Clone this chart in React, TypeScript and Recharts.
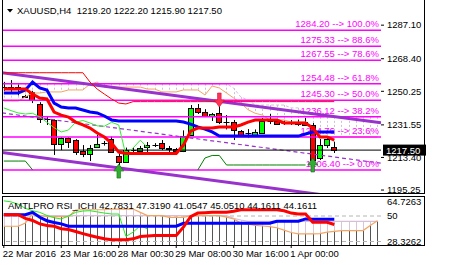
import React from "react";
import { ComposedChart, Bar, Line, XAxis, YAxis, ReferenceLine } from "recharts";

const FONT = '"Liberation Sans", Arial, sans-serif';
const FS = 9.5;

// XAUUSD H4 candles, bar 0 .. 46
const opens = [1252.8, 1252.5, 1252.2, 1247.5, 1249.7, 1243.2, 1234.6, 1234.3, 1220.9, 1224.2, 1223.1, 1217.0, 1215.3, 1219.2, 1221.4, 1223.7, 1214.2, 1210.9, 1217.6, 1217.0, 1219.2, 1220.6, 1221.4, 1218.4, 1218.1, 1217.0, 1225.9, 1240.9, 1238.7, 1236.5, 1238.2, 1233.2, 1233.1, 1228.1, 1227.0, 1226.0, 1227.0, 1233.7, 1233.7, 1232.6, 1232.6, 1232.0, 1233.4, 1231.5, 1213.1, 1220.3, 1219.2];
const highs = [1255.5, 1256.5, 1254.0, 1248.3, 1250.5, 1244.2, 1236.0, 1234.6, 1224.6, 1224.6, 1223.6, 1220.3, 1220.3, 1225.9, 1222.6, 1225.0, 1215.6, 1218.9, 1219.2, 1219.8, 1222.0, 1221.4, 1223.1, 1219.8, 1218.7, 1228.5, 1242.6, 1243.2, 1240.3, 1238.2, 1242.1, 1237.0, 1234.3, 1228.7, 1229.2, 1229.0, 1235.4, 1237.6, 1234.3, 1234.0, 1234.2, 1234.5, 1235.4, 1232.6, 1223.7, 1224.2, 1222.2];
const lows = [1250.5, 1250.0, 1248.0, 1246.5, 1243.7, 1232.6, 1231.5, 1214.8, 1217.5, 1218.7, 1214.8, 1213.6, 1211.4, 1219.0, 1220.0, 1216.0, 1209.2, 1210.5, 1214.8, 1214.8, 1216.4, 1219.2, 1217.5, 1216.4, 1216.4, 1216.4, 1225.6, 1237.6, 1235.9, 1233.7, 1232.0, 1229.0, 1223.1, 1224.8, 1224.2, 1225.3, 1226.8, 1232.0, 1231.5, 1231.5, 1231.5, 1231.0, 1231.0, 1206.4, 1212.0, 1218.7, 1215.9];
const closes = [1252.5, 1252.2, 1252.5, 1247.2, 1245.4, 1234.8, 1234.8, 1220.9, 1224.2, 1222.0, 1216.4, 1215.3, 1218.7, 1220.9, 1221.6, 1216.4, 1210.9, 1217.5, 1217.4, 1218.7, 1220.3, 1220.4, 1218.7, 1218.2, 1217.0, 1225.3, 1240.9, 1238.7, 1236.5, 1237.6, 1233.4, 1233.1, 1228.7, 1225.9, 1226.8, 1227.6, 1233.7, 1233.5, 1232.3, 1232.7, 1233.1, 1233.4, 1231.5, 1212.0, 1220.3, 1223.7, 1217.5];

// indicator lines on the price panel
const tenkan = [1251.5, 1251.5, 1251.5, 1251.5, 1248.7, 1246.5, 1246.0, 1238.7, 1237.0, 1235.9, 1233.1, 1231.5, 1229.8, 1227.0, 1224.8, 1221.4, 1216.4, 1215.6, 1215.6, 1215.6, 1215.6, 1215.6, 1215.6, 1215.6, 1215.6, 1220.3, 1228.1, 1229.8, 1229.8, 1229.8, 1230.4, 1230.4, 1230.4, 1231.5, 1233.1, 1234.3, 1234.3, 1234.3, 1234.3, 1232.6, 1232.6, 1232.6, 1232.6, 1229.8, 1224.8, 1224.8, 1223.0];
const kijun = [1249.3, 1249.3, 1249.3, 1251.0, 1255.4, 1252.1, 1251.0, 1243.7, 1241.5, 1240.9, 1240.9, 1239.8, 1238.7, 1238.2, 1236.5, 1234.3, 1233.7, 1233.7, 1233.7, 1233.7, 1233.7, 1233.7, 1233.7, 1233.7, 1233.7, 1233.1, 1232.0, 1230.4, 1229.2, 1227.6, 1225.3, 1225.3, 1225.3, 1225.3, 1225.3, 1225.3, 1225.3, 1225.3, 1225.3, 1225.3, 1225.3, 1225.3, 1226.5, 1227.6, 1227.6, 1227.6, 1227.6];
const chikou = [1241.0, 1239.5, 1238.2, 1237.6, 1238.0, 1236.0, 1233.0, 1230.0, 1227.6, 1228.7, 1233.0, 1234.0, 1232.6, 1231.0, 1230.8, 1233.0, 1231.5, 1214.5, 1218.7, 1223.0, 1219.0];
const highLine = [1260.6, 1260.6, 1260.6, 1260.6, 1260.6, 1260.6, 1260.6, 1260.6, 1260.6, 1260.6, 1260.6, 1260.6, 1255.4, 1251.5, 1248.7, 1246.0, 1243.7, 1243.2, 1244.5, 1244.5, 1244.5, 1244.5, 1244.5, 1244.5, 1244.5, 1244.5, 1244.5, 1244.5, 1244.5, 1244.5, 1244.5, 1244.5, 1244.5, 1244.5, 1244.5, 1244.5, 1244.5, 1244.5, 1244.5, 1244.5, 1244.5, 1244.5, 1244.5, 1244.5, 1244.5, 1244.5, 1244.5];
const lowLine = [1211.4, 1211.4, 1211.4, 1211.4, 1206.5, null, null, null, null, null, null, null, null, null, null, null, null, null, null, null, null, null, null, null, null, null, null, 1206.4, 1213.1, 1214.5, 1214.5, 1209.2, 1209.2, 1209.2, 1209.2, 1209.2, 1209.2, 1209.2, 1209.2, 1209.2, 1209.2, 1209.2, 1209.2];
const spanA = [1244.8, 1244.8, 1244.8, 1247.1, 1249.3, 1249.3, 1249.9, 1249.9, 1249.9, 1251.0, 1251.0, 1251.0, 1254.3, 1255.4, 1252.6, 1252.6, 1252.6, 1252.6, 1252.6, 1252.6, 1251.5, 1251.5, 1249.9, 1249.9, 1249.9, 1251.0, 1251.0, 1251.0, 1248.2, 1253.2, 1252.1, 1249.3, 1246.5, 1243.7, 1240.0, 1238.0, 1237.0, 1234.3, 1234.3, 1234.3, 1233.1, 1233.1, 1233.1, 1229.8, 1224.8, 1224.8, 1224.8, 1224.8, 1224.8, 1224.8, 1224.8, 1224.8, 1224.8];
const spanB = [1254.5, 1254.5, 1254.5, 1254.5, 1254.5, 1254.5, 1254.5, 1254.5, 1254.5, 1254.5, 1254.5, 1254.5, 1254.5, 1254.5, 1254.5, 1254.5, 1254.5, 1254.5, 1254.5, 1254.5, 1254.5, 1254.5, 1254.5, 1254.5, 1254.5, 1254.5, 1254.5, 1254.5, 1254.5, 1254.5, 1254.5, 1254.5, 1252.0, 1247.0, 1245.4, 1242.6, 1242.6, 1242.6, 1242.6, 1242.6, 1241.0, 1241.0, 1236.0, 1236.0, 1236.0, 1236.0, 1236.0, 1236.0, 1236.0, 1236.0, 1236.0, 1236.0, 1236.0];

// signal arrows: bar index and price
const sellBars = [30];
const sellPrices = [1245.4];
const buyBars = [16, 43];
const buyPrices = [1205.8, 1209.2];

// fibonacci retracement
const fibPrices = [1284.2, 1275.33, 1267.55, 1254.48, 1245.3, 1236.12, 1224.76, 1206.4];
const fibRatios = ["100.0%", "88.6%", "78.6%", "61.8%", "50.0%", "38.2%", "23.6%", "0.0%"];

// channel lines: [bar, price] at both ends
const channelUpper = [[-0.25, 1260.6], [52.5, 1232.7]];
const channelMid = [[-0.25, 1238.2], [52.5, 1210.2]];
const channelLower = [[-0.25, 1216.1], [52.5, 1188.3]];

const lastPrice = 1217.5;
const priceTicks = [1287.1, 1268.4, 1250.25, 1231.55, 1213.4, 1195.25];

// RSI ichimoku sub window
const rsiTenkan = [51.1, 51.1, 51.1, 48.0, 46.2, 43.3, 42.0, 41.3, 39.2, 38.5, 36.8, 35.0, 33.4, 32.0, 30.6, 29.8, 29.8, 29.8, 30.6, 32.6, 33.0, 33.4, 33.4, 33.4, 33.4, 40.5, 49.5, 52.5, 52.8, 53.1, 53.1, 53.1, 54.0, 55.3, 55.3, 55.3, 55.3, 55.3, 55.3, 54.5, 52.5, 51.7, 51.7, 44.7, 44.7, 44.7, 42.8];
const rsiKijun = [51.1, 51.1, 51.1, 51.1, 53.1, 48.9, 46.0, 44.5, 43.3, 41.3, 41.3, 41.3, 41.3, 41.3, 41.3, 41.3, 41.3, 41.3, 41.3, 41.3, 41.3, 41.3, 41.3, 41.3, 41.3, 43.8, 43.8, 43.8, 43.8, 43.8, 43.8, 43.8, 43.8, 43.8, 43.8, 43.8, 43.8, 43.8, 45.5, 45.5, 45.5, 45.5, 47.5, 47.3, 47.3, 47.3, 47.3];
const rsiChikou = [62.9, 62.0, 60.1, 56.5, 54.5, 53.1, 50.5, 48.5, 47.5, 50.0, 53.1, 54.2, 54.5, 53.5, 52.5, 51.7, 51.7, 32.6, 36.3, 41.8, 39.0];
const rsiSpanA = [41.3, 41.3, 41.3, 44.0, 51.7, 50.5, 49.4, 49.4, 49.4, 49.4, 55.0, 55.3, 55.3, 55.3, 55.3, 55.9, 55.9, 55.9, 55.9, 53.1, 50.3, 50.3, 50.3, 48.9, 48.9, 48.9, 50.3, 50.3, 50.3, 50.3, 50.3, 49.0, 47.5, 44.0, 43.0, 42.0, 41.5, 41.0, 40.0, 38.0, 36.0, 34.8, 34.8, 34.8, 35.0, 36.3, 37.0, 37.6, 37.6, 37.6, 37.6, 42.0, 46.0];
const rsiSpanB = [50.3, 50.3, 50.3, 50.3, 50.3, 50.3, 50.3, 50.3, 50.3, 50.3, 50.3, 50.3, 50.3, 50.3, 50.3, 50.3, 50.3, 50.3, 50.3, 50.3, 50.3, 50.3, 50.3, 50.3, 50.3, 50.3, 50.3, 50.3, 50.3, 50.3, 50.3, 50.3, 48.0, 46.6, 45.5, 45.5, 45.5, 45.5, 45.5, 45.5, 45.5, 45.5, 45.5, 45.5, 45.5, 45.5, 45.5, 45.5, 45.5, 45.5, 45.5, 45.5, 45.5];
const rsiTicks = [28.3262, 50, 64.7263];

const dateTicks = [0, 8, 16, 24, 32, 40];
const dateLabels = ["22 Mar 2016", "23 Mar 16:00", "28 Mar 00:30", "29 Mar 08:00", "30 Mar 16:00", "1 Apr 00:00"];

const X_DOMAIN = [-0.25, 52.5];

const rows = spanA.map((a, i) => ({
  i,
  candle: i < opens.length ? [lows[i], highs[i]] : null,
  o: opens[i],
  h: highs[i],
  l: lows[i],
  c: closes[i],
  cloud: [Math.min(a, spanB[i]), Math.max(a, spanB[i])],
  spanA: a,
  spanB: spanB[i],
  tenkan: tenkan[i] ?? null,
  kijun: kijun[i] ?? null,
  chikou: chikou[i] ?? null,
  hi: highLine[i] ?? null,
  lo: lowLine[i] ?? null,
  sell: sellBars.includes(i) ? sellPrices[sellBars.indexOf(i)] : null,
  buy: buyBars.includes(i) ? buyPrices[buyBars.indexOf(i)] : null,
}));

const rsiRows = rsiSpanA.map((a, i) => ({
  i,
  floor: Math.min(a, rsiSpanB[i]),
  cloud: [Math.min(a, rsiSpanB[i]), Math.max(a, rsiSpanB[i])],
  spanA: a,
  spanB: rsiSpanB[i],
  tenkan: rsiTenkan[i] ?? null,
  kijun: rsiKijun[i] ?? null,
  chikou: rsiChikou[i] ?? null,
}));

const Candle = (props: any) => {
  const { x, y, width, height, payload } = props;
  if (!payload || payload.candle == null) return <g />;
  const { o, h, l, c } = payload;
  const top = Math.min(y, y + height);
  const span = Math.abs(height);
  const py = (p: number) => top + ((h - p) / (h - l)) * span;
  const cx = Math.round(x + width / 2) + 0.5;
  const yo = py(o);
  const yc = py(c);
  const bTop = Math.round(Math.min(yo, yc)) + 0.5;
  const bBot = Math.round(Math.max(yo, yc)) + 0.5;
  return (
    <g>
      <line x1={cx} x2={cx} y1={top} y2={top + span} stroke="#000" strokeWidth={1} />
      {bBot - bTop < 1 ? (
        <line x1={cx - 3} x2={cx + 3} y1={bTop} y2={bTop} stroke="#000" strokeWidth={1} />
      ) : (
        <rect x={cx - 3} y={bTop} width={5} height={bBot - bTop} fill={c > o ? "#00ff00" : "#ff0000"} stroke="#000" strokeWidth={1} />
      )}
    </g>
  );
};

const hatch = (color: string, dash?: string) => (props: any) => {
  const { x, y, width, height } = props;
  if (height == null || isNaN(height)) return <g />;
  const cx = Math.round(x + width / 2) + 0.5;
  return <line x1={cx} x2={cx} y1={y} y2={y + height} stroke={color} strokeWidth={1} strokeDasharray={dash} />;
};

const SellArrow = (props: any) => {
  const { cx, cy, value } = props;
  if (value == null || cy == null) return <g key={props.index} />;
  return (
    <polygon
      key={props.index}
      points={`${cx - 1.8},${cy - 7} ${cx + 1.8},${cy - 7} ${cx + 1.8},${cy} ${cx + 5},${cy} ${cx},${cy + 7} ${cx - 5},${cy} ${cx - 1.8},${cy}`}
      fill="#ff3355"
      stroke="#d0103a"
      strokeWidth={0.6}
    />
  );
};

const BuyArrow = (props: any) => {
  const { cx, cy, value } = props;
  if (value == null || cy == null) return <g key={props.index} />;
  return (
    <polygon
      key={props.index}
      points={`${cx - 1.8},${cy + 7} ${cx + 1.8},${cy + 7} ${cx + 1.8},${cy} ${cx + 5},${cy} ${cx},${cy - 7} ${cx - 5},${cy} ${cx - 1.8},${cy}`}
      fill="#2fae2f"
      stroke="#156b15"
      strokeWidth={0.6}
    />
  );
};

const fibLabel = (text: string) => (props: any) => {
  const vb = props.viewBox || {};
  return (
    <text x={vb.x + vb.width - 2} y={vb.y - 3} textAnchor="end" fill="#ff00ff" fontSize={FS} fontFamily={FONT}>
      {text}
    </text>
  );
};

const priceBox = (props: any) => {
  const vb = props.viewBox || {};
  const x = vb.x + vb.width + 2;
  return (
    <g>
      <rect x={x} y={vb.y - 5.5} width={43} height={11} fill="#000" />
      <text x={x + 3} y={vb.y + 3.5} fill="#fff" fontSize={FS} fontFamily={FONT}>
        {lastPrice.toFixed(2)}
      </text>
    </g>
  );
};

const AxisTick = (props: any) => {
  const { x, y, payload, fmt, nudge } = props;
  const dy = nudge ? nudge(payload.value) : 0;
  return (
    <text x={x} y={y + dy} dy="0.35em" textAnchor="start" fill="#000" fontSize={FS} fontFamily={FONT}>
      {fmt(payload.value)}
    </text>
  );
};

const DateTick = (props: any) => {
  const { x, y, payload } = props;
  const k = dateTicks.indexOf(payload.value);
  return (
    <text x={x - 1} y={y} dy="0.71em" textAnchor="start" fill="#000" fontSize={FS} fontFamily={FONT}>
      {dateLabels[k]}
    </text>
  );
};

const seg = (pts: number[][]) => pts.map(([x, y]) => ({ x, y }));

const PriceChart = () => (
  <ComposedChart width={467} height={196} data={rows} margin={{ top: 2, right: 43, bottom: 3, left: 2 }}>
    <XAxis dataKey="i" type="number" domain={X_DOMAIN} allowDataOverflow hide />
    <XAxis xAxisId="cloud" dataKey="i" type="number" domain={X_DOMAIN} allowDataOverflow hide />
    <YAxis
      orientation="right"
      width={43}
      domain={[1193.6, 1300]}
      allowDataOverflow
      ticks={priceTicks}
      interval={0}
      axisLine={false}
      tickLine={{ stroke: "#000" }}
      tickSize={3}
      tickMargin={3}
      tick={<AxisTick fmt={(v: number) => v.toFixed(2)} />}
    />
    <Bar xAxisId="cloud" dataKey="cloud" barSize={5} shape={hatch("#cdbfd6", "2 2")} isAnimationActive={false} />
    <Line dataKey="spanB" stroke="#d8bfd8" strokeWidth={1} strokeDasharray="3 2" dot={false} activeDot={false} isAnimationActive={false} />
    <Line dataKey="spanA" stroke="#f4a460" strokeWidth={1} dot={false} activeDot={false} isAnimationActive={false} />
    {fibPrices.map((p, k) => (
      <ReferenceLine key={p} y={p} stroke="#ff00ff" strokeWidth={1.5} label={fibLabel(`${p.toFixed(2)} --> ${fibRatios[k]}`)} />
    ))}
    <ReferenceLine segment={seg(channelUpper)} stroke="#9932cc" strokeWidth={3} ifOverflow="hidden" />
    <ReferenceLine segment={seg(channelMid)} stroke="#9932cc" strokeWidth={1.2} strokeDasharray="4 3" ifOverflow="hidden" />
    <ReferenceLine segment={seg(channelLower)} stroke="#9932cc" strokeWidth={3} ifOverflow="hidden" />
    <ReferenceLine y={lastPrice} stroke="#000" strokeWidth={1} label={priceBox} />
    <Bar dataKey="candle" barSize={5} shape={Candle} isAnimationActive={false} />
    <Line dataKey="hi" stroke="#ff0000" strokeWidth={1} dot={false} activeDot={false} isAnimationActive={false} />
    <Line dataKey="lo" stroke="#008000" strokeWidth={1} dot={false} activeDot={false} isAnimationActive={false} />
    <Line dataKey="chikou" stroke="#33ee33" strokeWidth={1} dot={false} activeDot={false} isAnimationActive={false} />
    <Line dataKey="kijun" stroke="#0000ff" strokeWidth={3} dot={false} activeDot={false} isAnimationActive={false} />
    <Line dataKey="tenkan" stroke="#ff0000" strokeWidth={3} dot={false} activeDot={false} isAnimationActive={false} />
    <Line dataKey="sell" stroke="none" dot={SellArrow} activeDot={false} isAnimationActive={false} />
    <Line dataKey="buy" stroke="none" dot={BuyArrow} activeDot={false} isAnimationActive={false} />
  </ComposedChart>
);

const RsiChart = () => (
  <ComposedChart width={467} height={71} data={rsiRows} margin={{ top: 2, right: 43, bottom: 0, left: 2 }}>
    <XAxis
      dataKey="i"
      type="number"
      domain={X_DOMAIN}
      allowDataOverflow
      ticks={dateTicks}
      interval={0}
      height={20}
      axisLine={false}
      tickLine={{ stroke: "#000" }}
      tickSize={3}
      tickMargin={2}
      tick={<DateTick />}
    />
    <XAxis xAxisId="cloud" dataKey="i" type="number" domain={X_DOMAIN} allowDataOverflow hide />
    <YAxis
      orientation="right"
      width={43}
      domain={[25.35, 67]}
      allowDataOverflow
      ticks={rsiTicks}
      interval={0}
      axisLine={false}
      tickLine={false}
      tickSize={3}
      tickMargin={3}
      tick={
        <AxisTick
          fmt={(v: number) => (v === 50 ? "50" : v.toFixed(4))}
          nudge={(v: number) => (v === rsiTicks[2] ? 3 : 0)}
        />
      }
    />
    <Bar dataKey="floor" barSize={5} shape={hatch("#555555")} isAnimationActive={false} />
    <Bar xAxisId="cloud" dataKey="cloud" barSize={5} shape={hatch("#d8c4dc")} isAnimationActive={false} />
    <ReferenceLine y={50} stroke="#b4b4b4" strokeDasharray="4 3" />
    <ReferenceLine y={rsiTicks[0]} stroke="#b4b4b4" strokeDasharray="4 3" />
    <Line dataKey="spanB" stroke="#d8bfd8" strokeWidth={1.2} dot={false} activeDot={false} isAnimationActive={false} />
    <Line dataKey="spanA" stroke="#f4a460" strokeWidth={1.2} dot={false} activeDot={false} isAnimationActive={false} />
    <Line dataKey="chikou" stroke="#22ee22" strokeWidth={1} dot={false} activeDot={false} isAnimationActive={false} />
    <Line dataKey="kijun" stroke="#0000ff" strokeWidth={3} dot={false} activeDot={false} isAnimationActive={false} />
    <Line dataKey="tenkan" stroke="#ff0000" strokeWidth={3} dot={false} activeDot={false} isAnimationActive={false} />
  </ComposedChart>
);

export default function App() {
  return (
    <div style={{ position: "absolute", left: 0, top: 0, width: 467, height: 265, background: "#fff", overflow: "hidden" }}>
      <div style={{ position: "absolute", left: 0, top: 194 }}>
        <RsiChart />
      </div>
      <div style={{ position: "absolute", left: 0, top: 0 }}>
        <PriceChart />
      </div>
      {/* window frames */}
      <div style={{ position: "absolute", left: 2, top: -1, width: 423, height: 195, border: "1px solid #000", boxSizing: "border-box", pointerEvents: "none" }} />
      <div style={{ position: "absolute", left: 2, top: 196, width: 423, height: 50, border: "1px solid #000", boxSizing: "border-box", pointerEvents: "none" }} />
      <svg width={467} height={265} style={{ position: "absolute", left: 0, top: 0, pointerEvents: "none" }}>
        <polygon points="7,9 13,9 10,12.5" fill="#000" />
        <text x={17} y={14} fontSize={FS} fontFamily={FONT} fill="#000" style={{ whiteSpace: "pre" }}>
          XAUUSD,H4  1219.20 1222.20 1215.90 1217.50
        </text>
        <text x={8} y={208.7} fontSize={FS} fontFamily={FONT} fill="#000">
          AMTLPRO RSI_ICHI 42.7831 47.3190 41.0547 45.0510 44.1611 44.1611
        </text>
      </svg>
    </div>
  );
}
